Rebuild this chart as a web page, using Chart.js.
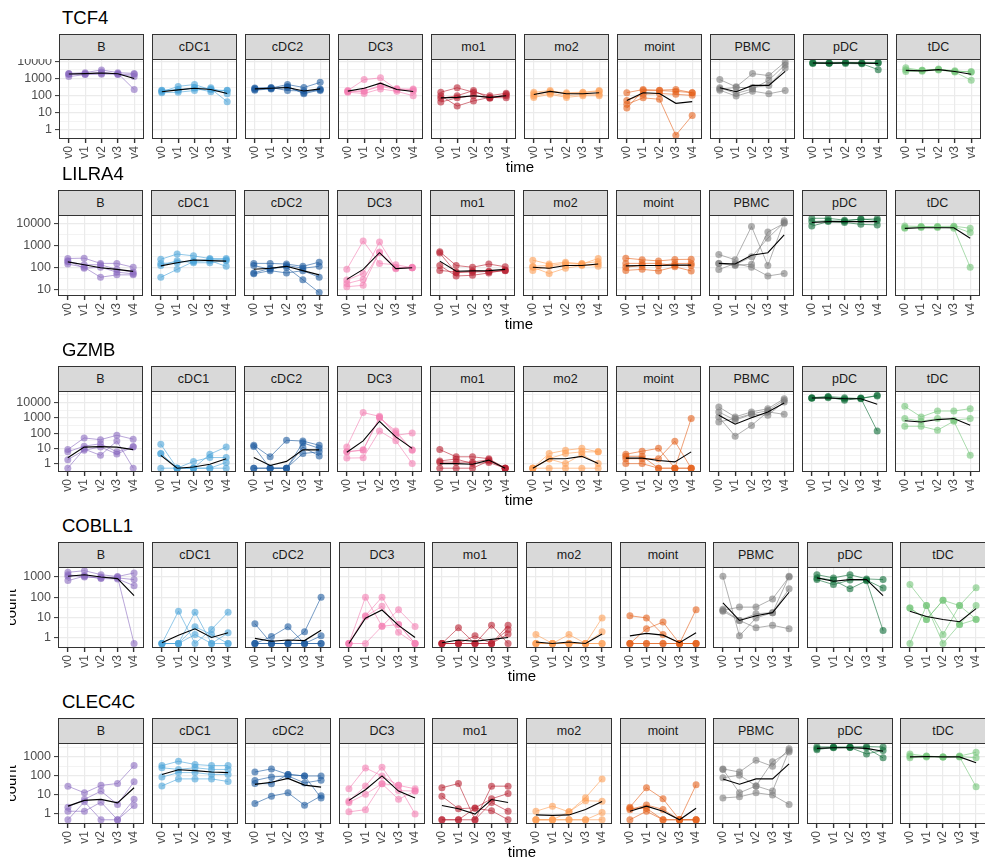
<!DOCTYPE html>
<html>
<head>
<meta charset="utf-8">
<script src="https://cdn.jsdelivr.net/npm/chart.js@4/dist/chart.umd.min.js"></script>
<style>
  html, body { margin: 0; padding: 0; background: #fff; }
  body { width: 985px; height: 866px; position: relative; overflow: hidden;
         font-family: "Liberation Sans", Arial, Helvetica, sans-serif; }
  .title { position: absolute; font-size: 18.5px; line-height: 1; color: #000; white-space: nowrap; }
  .strip { position: absolute; box-sizing: border-box; background: #d9d9d9; border: 1px solid #333;
           font-size: 12.5px; color: #1a1a1a; display: flex; align-items: center; justify-content: center; }
  .xlab { position: absolute; font-size: 15px; line-height: 1; color: #000; transform: translateX(-50%); }
  .yclip { position: absolute; overflow: hidden; }
  .ylab { position: absolute; width: 60px; height: 15px; line-height: 15px; font-size: 15px; color: #000;
          text-align: center; transform: rotate(-90deg); }
  canvas { position: absolute; }
</style>
</head>
<body>
<script>
// ---- categories ----
const GENES = ['TCF4', 'LILRA4', 'GZMB', 'COBLL1', 'CLEC4C'];
const CELL_TYPES = ['B', 'cDC1', 'cDC2', 'DC3', 'mo1', 'mo2', 'moint', 'PBMC', 'pDC', 'tDC'];
const TIMES = ['v0', 'v1', 'v2', 'v3', 'v4'];
const CELL_COLORS = ['#8a6bbf', '#4aa3d8', '#1c5a9e', '#f47fb2', '#b71f31',
                     '#fd9f55', '#e4611a', '#7d7d7d', '#0c6a36', '#73c478'];

// log10 limits of the count axis for each gene
const Y_LIMITS_LOG10 = [[-0.48, 4.14], [0.69, 4.38], [-0.55, 4.76], [-0.48, 3.495], [-0.47, 3.73]];

// ---- counts per donor (one row per donor, one value per time point), by cell type ----
const TCF4 = [
  [[2000,2200,3200,2200,2000],[1900,1800,2400,1800,1300],[1300,1700,1800,2000,230],[1700,2000,2000,1700,1800]],
  [[170,350,450,220,200],[200,230,270,170,210],[150,160,200,290,130],[210,200,300,250,45]],
  [[260,280,450,300,600],[230,260,300,150,250],[280,300,200,190,200],[210,250,350,130,220]],
  [[200,870,1100,230,250],[170,185,350,230,180],[160,135,250,180,100],[190,190,400,260,220]],
  [[160,290,160,100,140],[43,75,100,75,100],[100,25,50,80,75],[70,100,200,70,120]],
  [[160,200,130,150,180],[100,140,100,120,120],[80,120,80,100,100],[130,170,150,160,200]],
  [[150,230,210,230,150],[53,120,135,120,105],[32,75,62,0.5,7],[19,200,200,180,150]],
  [[870,330,1940,1490,9300],[290,135,250,800,6400],[210,95,185,130,200],[250,300,300,400,4150]],
  [[8200,7900,8500,7800,8500],[7500,7700,7500,7300,3300],[8500,8000,8800,8400,8200]],
  [[4200,3000,3600,2600,2600],[2600,2700,3200,2400,800],[3300,3100,3400,2900,2300]]
];
const TCF4_MEAN = [
  [1850,1950,2100,1900,1000],[170,220,270,230,135],[250,270,300,190,250],[185,275,540,230,175],
  [75,80,100,80,100],[118,180,130,130,150],[53,150,135,36,45],[290,170,400,400,2630],
  [8000,7900,8000,7900,7500],[3000,2800,3300,2600,1770]
];

const LILRA4 = [
  [[250,260,150,150,100],[180,130,130,80,60],[140,100,35,45,45],[200,90,100,60,50]],
  [[230,400,330,250,250],[150,160,200,230,220],[120,200,160,160,200],[35,80,180,200,110]],
  [[150,150,140,110,170],[120,80,120,90,110],[50,70,55,70,35],[55,90,100,27,7]],
  [[80,1580,150,130,95],[26,52,1400,90,95],[18,28,460,85,100],[13,15,500,100,95]],
  [[510,120,100,140,105],[440,56,68,63,72],[120,40,43,55,75],[72,60,60,65,70]],
  [[210,140,170,140,250],[100,52,90,120,140],[72,110,120,130,110],[110,120,150,150,180]],
  [[260,220,195,225,230],[100,120,120,148,150],[72,80,68,105,68],[150,150,150,120,120]],
  [[380,220,7200,120,13000],[150,120,138,4000,10000],[78,150,100,40,52],[150,130,300,2100,11000]],
  [[17000,17000,14000,15000,16000],[7500,12000,11000,9000,8500],[12000,13000,12500,16000,13500]],
  [[7600,7200,7200,7400,6000],[6000,6500,6500,7000,3800],[6500,7000,7000,6000,100]]
];
const LILRA4_MEAN = [
  [175,130,95,80,65],[115,160,215,200,190],[81,90,110,70,45],[28,80,460,87,95],
  [190,66,68,70,80],[100,90,120,120,140],[115,120,120,125,125],[150,140,350,460,3000],
  [11000,12000,12000,12000,12000],[5900,6300,6300,6300,2100]
];

const GZMB = [
  [[8.3,48,37,72,40],[5.9,14,20,5.9,13],[1.8,7.5,12.5,4.2,12.5],[0.5,9,3.5,30,0.5]],
  [[18.6,0.5,0.5,4.1,12.5],[4.6,0.5,1.4,2.5,2.5],[0.5,0.5,0.5,0.5,1.2],[4.5,0.5,0.5,0.5,0.5]],
  [[16,2.8,34,30,16],[13,0.5,0.5,23,10],[0.5,0.5,0.5,4.6,5.9],[0.5,0.5,0.5,12,3.2]],
  [[12.5,2200,1260,72,100],[5.9,7.5,1000,138,7.5],[2.3,2.4,138,31,1],[6,8,1100,100,8]],
  [[8.3,2.8,2.8,2.1,0.5],[1.25,1.25,1.25,1.8,0.5],[0.5,0.5,0.5,1.5,0.5],[1.5,2,1,1.2,0.5]],
  [[0.5,4.6,7.5,10,5.9],[0.5,2.1,4.6,5.9,5.9],[0.5,0.5,0.5,0.5,0.5],[0.5,2,1,4,1]],
  [[4.1,6.5,10,0.5,900],[2.1,2.1,2.1,29,0.5],[1,1,0.5,0.5,0.5],[3,3,0.5,0.5,0.5]],
  [[5200,1150,2450,4000,18000],[2450,700,1700,1500,11000],[1150,63,320,2450,1700],[540,900,1800,3000,14000]],
  [[21000,25000,21000,18000,30000],[20000,23000,14000,20000,27000],[19000,21000,17000,19000,138]],
  [[5700,1150,2800,2800,4000],[900,600,900,700,900],[280,280,155,600,3.5]]
];
const GZMB_MEAN = [
  [2.4,12,13,12,8.3],[3.5,0.5,0.6,0.9,2.1],[2.5,0.75,1.4,8,8],[5.5,31,600,56,10],
  [1.0,1.0,0.9,1.7,0.5],[0.5,2.1,2.1,3,1],[2.3,2.3,1.6,1.3,5.9],[1500,380,1000,2450,9500],
  [20000,20000,18000,18000,7900],[650,540,770,900,330]
];

const COBLL1 = [
  [[1700,2050,1300,1050,1580],[1100,1200,1000,900,740],[660,1100,830,800,370],[1300,1000,900,1000,0.5]],
  [[0.5,20,0.5,2.5,18],[0.5,0.5,18,0.5,1.7],[0.5,0.5,3.4,1.4,0.5],[0.5,0.5,1.4,0.5,0.5]],
  [[4.8,0.5,0.5,1.9,100],[0.5,1.1,3.4,0.5,1.2],[0.5,0.5,0.5,0.5,0.5],[0.5,0.5,0.5,0.5,0.5]],
  [[0.5,100,3.6,24,3.5],[0.5,12,100,4.4,0.5],[0.5,11,35,1.8,0.5],[0.5,0.5,3.6,4.4,0.5]],
  [[0.5,3,0.5,4,0.5],[0.5,0.5,1.2,0.5,4],[0.5,0.5,0.5,0.5,2.5],[0.5,0.5,0.5,0.5,1.5]],
  [[1.4,0.5,1.4,0.5,9.3],[0.5,0.5,0.5,0.5,1.9],[0.5,0.5,0.5,0.5,0.5],[0.5,0.5,0.5,0.5,0.5]],
  [[12,9.3,1.4,0.5,24],[0.5,2.7,5.8,0.5,0.5],[0.5,0.5,0.5,0.5,0.5],[0.5,0.5,0.5,0.5,0.5]],
  [[1080,1.2,9.3,17,1080],[22,32,32,82,1000],[20,7,3,4,2.7],[25,7,15,17,260]],
  [[1300,900,1300,800,740],[740,420,700,700,280],[900,700,260,650,2.2]],
  [[420,38,1.4,38,290],[29,7.8,70,4.4,38],[0.5,38,0.5,4.4,7.8],[29,7.8,70,38,8]]
];
const COBLL1_MEAN = [
  [1080,1300,1000,830,120],[0.55,1.3,2.7,1.0,1.7],[0.9,0.65,0.75,0.7,2.3],[0.5,9,23,4,1],
  [0.55,0.75,0.65,0.8,1],[0.6,0.5,0.6,0.5,1.5],[1.2,1.6,1.3,0.55,1.7],[52,7,12,17,175],
  [900,610,740,740,120],[20,11,7.8,6,27]
];

const CLEC4C = [
  [[29,13,32,40,350],[2.3,5.9,16,3.2,50],[1.4,1.4,4.2,0.5,5.9],[0.5,4.4,0.5,0.5,2.8]],
  [[350,590,400,350,350],[270,220,270,220,220],[87,150,150,120,120],[30,70,70,70,51]],
  [[160,235,120,100,100],[58,89,100,43,60],[3.6,8.7,13,2.9,9],[40,39,120,100,7]],
  [[21,265,100,32,21],[4.8,30,290,17,16],[4,11,39,5.9,16],[1.3,1.7,39,32,1]],
  [[24,40,0.5,29,29],[8.7,1.9,2.1,6.3,12],[0.5,0.5,0.5,4,1.4],[0.5,0.5,2,1.5,0.5]],
  [[1.4,2.6,1.3,7.2,70],[0.5,0.5,1.3,5,4.7],[0.5,0.5,0.5,0.5,1.2],[0.5,0.5,0.5,0.5,0.5]],
  [[2.3,24,6.3,0.5,34],[1.7,3,1.75,0.5,0.5],[0.5,1.4,0.5,0.5,0.5],[2,2,0.5,0.5,0.5]],
  [[235,160,670,320,2700],[80,110,30,560,1830],[7,8,13,10,3.2],[220,13,30,16,2200]],
  [[3400,3300,3300,3500,3300],[2400,3200,3100,1440,2200],[2800,3000,3200,3000,890]],
  [[1440,1100,1000,1100,1750],[890,1000,1000,1050,890],[1100,1080,1000,1000,27]]
];
const CLEC4C_MEAN = [
  [2.6,5.2,5.9,3.9,24],[120,210,190,160,150],[36,47,74,33,26],[5.2,19,100,16,7],
  [2.8,1.9,1.0,5.8,4],[0.9,0.85,0.9,1.75,4.6],[1.4,2.6,1.4,0.5,2],[70,37,70,70,430],
  [2800,3000,3000,2800,2000],[1000,1050,1000,1000,490]
];

const DONOR_DATA = [TCF4, LILRA4, GZMB, COBLL1, CLEC4C];
const MEAN_DATA = [TCF4_MEAN, LILRA4_MEAN, GZMB_MEAN, COBLL1_MEAN, CLEC4C_MEAN];

// ---- page layout (one block per gene) ----
const FONT = '"Liberation Sans", Arial, Helvetica, sans-serif';
const ROWS = [
  { left: 59, step: 93.05, w: 85, strip: 34,  top: 59,  h: 80, yTitle: false },
  { left: 58, step: 93.05, w: 85, strip: 190, top: 215, h: 81, yTitle: false },
  { left: 58, step: 93.05, w: 85, strip: 366, top: 391, h: 81, yTitle: false },
  { left: 58, step: 93.6,  w: 86, strip: 542, top: 567, h: 81, yTitle: true },
  { left: 58, step: 93.6,  w: 86, strip: 718, top: 743, h: 81, yTitle: true }
];
const BOTTOM_AXIS = 26;

function rgba(hex, a) {
  const n = parseInt(hex.slice(1), 16);
  return `rgba(${(n >> 16) & 255},${(n >> 8) & 255},${n & 255},${a})`;
}
function isDecade(v) {
  const l = Math.log10(v);
  return Math.abs(l - Math.round(l)) < 1e-6;
}
// decades plus the half-decade minor lines inside the limits
function logTicks(lo, hi) {
  const out = [];
  for (let k = Math.ceil(lo * 2); k <= Math.floor(hi * 2); k++) out.push({ value: Math.pow(10, k / 2) });
  return out;
}
// keep the plotting area exactly where the axes are told to be
function noPadding(s) {
  s.paddingLeft = s.paddingRight = s.paddingTop = s.paddingBottom = 0;
}

// panel outline drawn over everything
const frame = {
  id: 'frame',
  afterDraw(chart) {
    const a = chart.chartArea, c = chart.ctx;
    c.save();
    c.strokeStyle = '#333';
    c.lineWidth = 1;
    c.strokeRect(a.left + 0.5, a.top + 0.5, a.right - a.left - 1, a.bottom - a.top - 1);
    c.restore();
  }
};

function addDiv(cls, text, style) {
  const d = document.createElement('div');
  d.className = cls;
  d.textContent = text;
  Object.assign(d.style, style);
  document.body.appendChild(d);
  return d;
}

function drawPanel(g, c) {
  const R = ROWS[g];
  const x0 = Math.round(R.left + c * R.step);
  const leftExtra = c === 0 ? x0 : 0;
  const [lo, hi] = Y_LIMITS_LOG10[g];
  const color = CELL_COLORS[c];

  addDiv('strip', CELL_TYPES[c], { left: x0 + 'px', top: R.strip + 'px', width: R.w + 'px', height: (R.top - R.strip + 1) + 'px' });

  const cv = document.createElement('canvas');
  cv.width = leftExtra + R.w;
  cv.height = R.h + BOTTOM_AXIS;
  cv.style.left = (x0 - leftExtra) + 'px';
  cv.style.top = R.top + 'px';
  document.body.appendChild(cv);

  const toPoints = arr => arr.map((v, i) => ({ x: i, y: v }));
  const datasets = [{
    data: toPoints(MEAN_DATA[g][c]),
    borderColor: '#000', borderWidth: 1.1, pointRadius: 0, fill: false, tension: 0
  }];
  DONOR_DATA[g][c].forEach(series => {
    datasets.push({
      data: toPoints(series),
      borderColor: rgba(color, 0.6), borderWidth: 1,
      pointRadius: 3.5, pointHoverRadius: 3.5, pointBorderWidth: 0,
      pointBackgroundColor: rgba(color, 0.6), fill: false, tension: 0
    });
  });

  new Chart(cv, {
    type: 'line',
    data: { datasets },
    plugins: [frame],
    options: {
      responsive: false, animation: false, events: [],
      layout: { padding: 0, autoPadding: false },
      plugins: { legend: { display: false }, tooltip: { enabled: false } },
      scales: {
        x: {
          type: 'linear', min: -0.6, max: 4.6,
          afterBuildTicks: s => { s.ticks = TIMES.map((_, i) => ({ value: i })); },
          afterFit: s => { s.height = BOTTOM_AXIS; noPadding(s); },
          border: { display: false },
          grid: { color: '#ebebeb', lineWidth: 1.2, drawTicks: true, tickLength: 4, tickColor: '#333', tickWidth: 1.4 },
          ticks: {
            callback: v => TIMES[v], minRotation: 90, maxRotation: 90, autoSkip: false,
            padding: 3, color: '#4d4d4d', font: { family: FONT, size: 12 }
          }
        },
        y: {
          type: 'logarithmic', min: Math.pow(10, lo), max: Math.pow(10, hi),
          afterBuildTicks: s => { s.ticks = logTicks(lo, hi); },
          afterFit: s => { s.width = leftExtra; noPadding(s); },
          border: { display: false },
          grid: {
            color: '#ebebeb',
            lineWidth: ctx => (ctx.tick && isDecade(ctx.tick.value)) ? 1.2 : 0.6,
            drawTicks: c === 0, tickLength: 4, tickWidth: 1,
            tickColor: ctx => (ctx.tick && isDecade(ctx.tick.value)) ? '#333' : 'rgba(0,0,0,0)'
          },
          ticks: {
            display: c === 0, autoSkip: false, padding: 3, color: '#4d4d4d',
            font: { family: FONT, size: 12.5 },
            callback: v => isDecade(v) ? String(Math.round(v)) : ''
          }
        }
      }
    }
  });
}

GENES.forEach((gene, g) => {
  const R = ROWS[g];
  addDiv('title', gene, { left: '62px', top: (R.strip - 24.7) + 'px' });
  CELL_TYPES.forEach((_, c) => drawPanel(g, c));
  const first = Math.round(R.left), last = Math.round(R.left + 9 * R.step) + R.w;
  addDiv('xlab', 'time', { left: ((first + last) / 2) + 'px', top: (R.top + R.h + 19.7) + 'px' });
  if (R.yTitle) {
    // the axis title sits partly outside the figure's left edge
    const clipLeft = 9.8;
    const clip = addDiv('yclip', '', { left: clipLeft + 'px', top: R.top + 'px', width: '20px', height: R.h + 'px' });
    const lab = document.createElement('div');
    lab.className = 'ylab';
    lab.textContent = 'count';
    // centre of the rotated label (baseline ends up near x = 15)
    lab.style.left = (9.8 - clipLeft - 30) + 'px';
    lab.style.top = (R.h / 2 - 7.5) + 'px';
    clip.appendChild(lab);
  }
});
</script>
</body>
</html>
